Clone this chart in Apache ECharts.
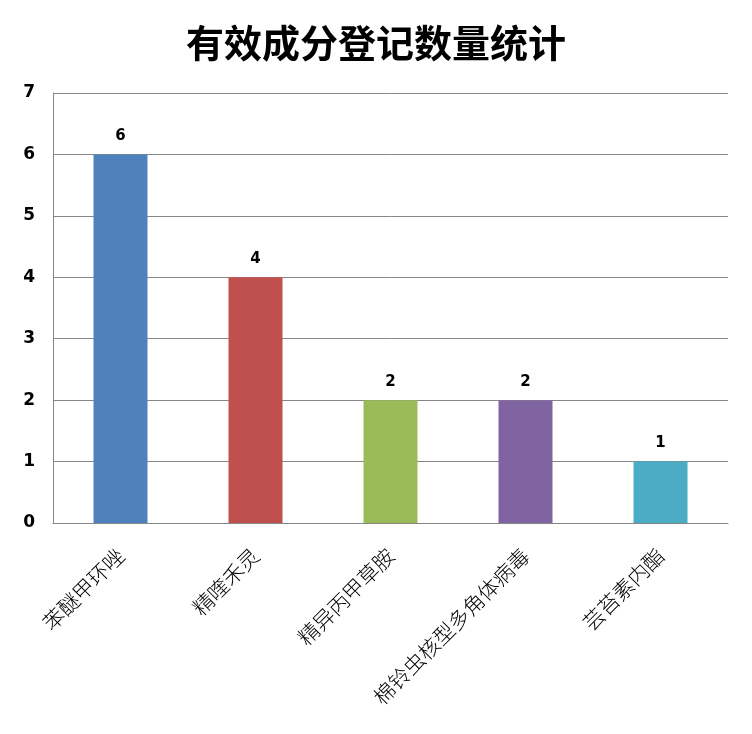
<!DOCTYPE html>
<html><head><meta charset="utf-8">
<script src="https://cdn.jsdelivr.net/npm/echarts@6/dist/echarts.min.js"></script>
<style>html,body{margin:0;padding:0;background:#fff}#c{width:752px;height:734px}</style>
</head><body><div id="c"></div>
<script>
const titleText = '有效成分登记数量统计';
const categories = ['苯醚甲环唑', '精喹禾灵', '精异丙甲草胺', '棉铃虫核型多角体病毒', '芸苔素内酯'];
const values = [6, 4, 2, 2, 1];
const barColors = ['#4F81BD', '#C0504D', '#9BBB59', '#8064A2', '#4BACC6'];
const yTicks = [0, 1, 2, 3, 4, 5, 6, 7];

const chart = echarts.init(document.getElementById('c'), null, {renderer: 'canvas'});
chart.setOption({
  animation: false,
  backgroundColor: '#fff',
  title: {
    text: titleText, left: 'center', top: 19,
    textStyle: {fontSize: 38, fontWeight: 'bold', color: '#000', fontFamily: '"Noto Sans CJK SC"'}
  },
  grid: {left: 53, right: 24, top: 93, bottom: 211, containLabel: false},
  xAxis: {
    type: 'category', data: categories,
    axisLine: {lineStyle: {color: '#868686', width: 1}},
    axisTick: {show: false},
    axisLabel: {rotate: 45, interval: 0, fontSize: 21, color: '#000', margin: 29,
      fontFamily: '"Noto Sans CJK SC"', fontWeight: 300}
  },
  yAxis: {
    type: 'value', min: yTicks[0], max: yTicks[yTicks.length - 1], interval: 1,
    axisLine: {show: true, lineStyle: {color: '#868686'}},
    axisTick: {show: false},
    splitLine: {lineStyle: {color: '#868686'}},
    axisLabel: {fontSize: 17, fontWeight: 'bold', color: '#000', margin: 18,
      fontFamily: 'Verdana, "DejaVu Sans"'}
  },
  series: [{
    type: 'bar', barWidth: '40%',
    data: values.map((v, i) => ({value: v, itemStyle: {color: barColors[i]}})),
    label: {show: true, position: 'top', distance: 11, fontSize: 15, fontWeight: 'bold', color: '#000',
      fontFamily: 'Verdana, "DejaVu Sans"'}
  }]
});
</script></body></html>
